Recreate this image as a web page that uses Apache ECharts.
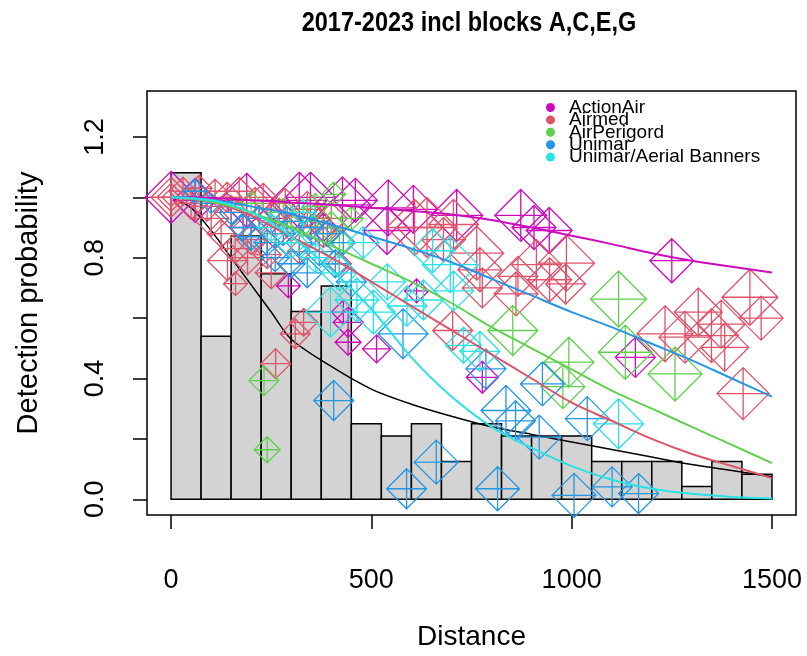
<!DOCTYPE html>
<html><head><meta charset="utf-8">
<script src="https://cdn.jsdelivr.net/npm/echarts@6/dist/echarts.min.js"></script>
<style>html,body{margin:0;padding:0;background:#fff}#c{width:807px;height:656px}</style>
</head><body><div id="c"></div>
<script>
// ---------------- data ----------------
const chartTitle = '2017-2023 incl blocks A,C,E,G';
const xName = 'Distance';
const yName = 'Detection probability';
const xTickValues = [0, 500, 1000, 1500];
const yTickValues = [0, 0.2, 0.4, 0.6, 0.8, 1.0, 1.2];
const yLabelValues = [0, 0.4, 0.8, 1.2];

const groups = ['ActionAir', 'Airmed', 'AirPerigord', 'Unimar', 'Unimar/Aerial Banners'];

// histogram of distances (scaled)
const binEdges = [0,75,150,225,300,375,450,525,600,675,750,825,900,975,1050,1125,1200,1275,1350,1425,1500];
const binHeights = [1.081,0.54,0.872,0.747,0.622,0.706,0.25,0.21,0.25,0.125,0.25,0.21,0.21,0.21,0.125,0.125,0.125,0.042,0.125,0.083];

// fitted detection functions
const curveDist = [0,50,100,150,200,250,300,400,500,600,700,800,900,1000,1100,1200,1300,1400,1500];
const fitOverall     = [1.0,0.965,0.89,0.80,0.71,0.62,0.53,0.44,0.365,0.315,0.275,0.24,0.215,0.19,0.165,0.14,0.115,0.095,0.075];
const fitActionAir   = [1.0,1.0,0.998,0.995,0.99,0.987,0.983,0.975,0.965,0.955,0.943,0.925,0.9,0.873,0.845,0.815,0.79,0.77,0.751];
const fitAirmed      = [1.0,0.995,0.985,0.965,0.94,0.905,0.87,0.8,0.72,0.64,0.56,0.48,0.4,0.32,0.26,0.2,0.15,0.11,0.07];
const fitAirPerigord = [1.0,0.995,0.985,0.97,0.95,0.925,0.9,0.84,0.78,0.72,0.65,0.57,0.5,0.43,0.36,0.30,0.24,0.18,0.12];
const fitUnimar      = [1.0,0.998,0.99,0.982,0.97,0.958,0.945,0.91,0.87,0.83,0.785,0.73,0.675,0.62,0.57,0.515,0.46,0.40,0.34];
const fitUnimarAB    = [1.0,0.997,0.99,0.975,0.95,0.915,0.87,0.76,0.63,0.47,0.34,0.24,0.17,0.11,0.065,0.035,0.018,0.008,0.003];

// observed points: [distance, detection proportion, relative weight]
const ptsActionAir = [[0,1.0,2.6],[60,0.99,2.2],[189,0.99,2.7],[250,0.93,1.5],[320,0.99,2.8],[348,1.0,2.5],[380,0.9,1.4],[428,0.975,2.8],[460,0.99,2.2],[542,0.965,2.8],[605,0.96,2.4],[539,0.89,2.4],[713,0.94,2.6],[873,0.94,2.6],[906,0.9,2.2],[944,0.89,2.3],[1250,0.79,2.2],[293,0.707,1.2],[442,0.586,1.5],[442,0.52,1.3],[513,0.498,1.4],[613,0.69,1.2],[777,0.404,1.6],[1159,0.47,2.0],[430,0.62,1.2]];
const ptsAirmed = [[0,1.0,2.0],[0,1.0,1.4],[0,1.0,0.9],[30,1.02,1.4],[50,0.98,1.6],[70,1.03,1.3],[90,0.97,1.5],[100,0.93,1.8],[110,1.02,1.2],[125,0.88,1.4],[140,1.0,1.5],[141,0.79,2.0],[150,0.95,1.7],[160,0.83,1.5],[161,0.714,1.2],[170,1.02,1.4],[180,0.9,1.4],[191,0.8,1.7],[200,0.86,1.5],[210,0.98,1.6],[220,0.93,1.3],[230,1.0,1.4],[240,0.81,1.4],[250,0.75,1.6],[260,0.88,1.5],[261,0.449,1.5],[270,0.95,1.4],[285,0.98,1.5],[300,0.9,1.4],[310,0.548,1.5],[320,0.82,1.2],[331,0.586,1.4],[340,0.96,1.8],[360,0.93,1.5],[380,0.88,1.4],[400,0.93,1.6],[420,0.78,1.2],[608,0.9,2.8],[639,0.9,3.0],[705,0.91,2.5],[680,0.86,2.2],[703,0.559,2.0],[763,0.815,2.7],[771,0.76,2.2],[777,0.7,2.0],[861,0.68,2.2],[866,0.738,2.0],[912,0.777,2.5],[945,0.727,2.2],[987,0.782,2.8],[985,0.713,2.0],[1233,0.548,2.8],[1283,0.537,2.6],[1316,0.62,2.4],[1349,0.542,2.7],[1373,0.58,2.4],[1382,0.503,2.4],[1428,0.35,2.6],[1445,0.669,2.8],[1473,0.6,2.2]];
const ptsAirPerigord = [[200,0.98,1.2],[280,0.95,1.4],[330,0.92,1.5],[360,0.97,1.3],[400,0.9,1.6],[420,0.85,1.4],[450,0.93,1.2],[406,1.01,1.2],[232,0.393,1.5],[240,0.164,1.3],[853,0.559,2.5],[978,0.373,2.2],[993,0.454,2.5],[1117,0.663,2.8],[1134,0.487,2.7],[1258,0.415,2.7]];
const ptsUnimar = [[60,1.02,1.2],[100,0.98,1.0],[150,0.95,1.2],[180,0.9,1.3],[200,0.87,1.4],[220,0.93,1.2],[240,0.85,1.3],[260,0.8,1.4],[280,0.88,1.2],[290,0.92,1.5],[300,0.78,1.4],[320,0.85,1.3],[340,0.75,1.5],[350,0.9,1.2],[370,0.82,1.4],[390,0.88,1.3],[410,0.78,1.4],[430,0.85,1.2],[450,0.72,1.5],[406,0.327,2.0],[579,0.548,2.5],[588,0.035,2.0],[662,0.123,2.2],[786,0.432,2.0],[815,0.035,2.2],[836,0.294,2.5],[860,0.26,2.0],[919,0.206,2.2],[927,0.382,2.2],[1006,0.013,2.2],[1039,0.267,2.2],[1101,0.041,2.0],[1167,0.019,2.0]];
const ptsUnimarAB = [[250,0.9,1.4],[300,0.85,1.6],[330,0.95,1.3],[360,0.8,1.5],[398,0.62,2.5],[420,0.75,1.8],[464,0.66,2.2],[480,0.85,1.6],[505,0.62,2.2],[540,0.72,1.8],[589,0.64,2.0],[630,0.66,2.0],[653,0.823,2.2],[697,0.777,2.8],[705,0.69,2.0],[730,0.51,1.8],[771,0.49,2.0],[1117,0.25,2.5]];

// ---------------- styling ----------------
const colors = ['#CD0BBC', '#DF536B', '#61D04F', '#2297E6', '#28E2E5'];
const groupPts = [ptsActionAir, ptsAirmed, ptsAirPerigord, ptsUnimar, ptsUnimarAB];
const groupFits = [fitActionAir, fitAirmed, fitAirPerigord, fitUnimar, fitUnimarAB];
const diamondPlus = 'path://M10,0 L20,10 L10,20 L0,10 Z M0,10 L20,10 M10,0 L10,20';
const pair = (ys) => curveDist.map((d, i) => [d, ys[i]]);
const SANS = 'Liberation Sans';

const histData = binHeights.map((h, i) => [binEdges[i], binEdges[i + 1], h]);

const series = [];
series.push({
  type: 'custom', name: 'hist', data: histData, z: 1,
  renderItem: function (params, api) {
    const a = api.coord([api.value(0), api.value(2)]);
    const b = api.coord([api.value(1), 0]);
    return { type: 'rect', shape: { x: a[0], y: a[1], width: b[0] - a[0], height: b[1] - a[1] },
      style: { fill: '#D3D3D3', stroke: '#000', lineWidth: 1.5 } };
  }
});
series.push({ type: 'line', name: 'overall', data: pair(fitOverall), smooth: 0.3, showSymbol: false,
  lineStyle: { color: '#000', width: 1.5 }, z: 2, silent: true });
groups.forEach((g, i) => {
  series.push({ type: 'scatter', name: g, data: groupPts[i], symbol: diamondPlus,
    symbolSize: v => v[2] * 20, clip: true, z: 3,
    itemStyle: { color: 'rgba(0,0,0,0)', borderColor: colors[i], borderWidth: 1.3, opacity: 1 } });
});
groups.forEach((g, i) => {
  series.push({ type: 'line', name: 'fit ' + g, data: pair(groupFits[i]), smooth: 0.3, showSymbol: false,
    lineStyle: { color: colors[i], width: 2 }, z: 4, silent: true });
});

const chart = echarts.init(document.getElementById('c'), null, { renderer: 'canvas' });
chart.setOption({
  animation: false,
  backgroundColor: '#fff',
  graphic: [{
    type: 'text', x: 469, y: 23, scaleX: 0.84, z: 10,
    style: { text: chartTitle, fontFamily: SANS, fontWeight: 'bold', fontSize: 28, fill: '#000',
      align: 'center', verticalAlign: 'middle' }
  }],
  grid: { left: 147, top: 91, width: 649, height: 425, show: true, borderColor: '#000', borderWidth: 1.5, containLabel: false },
  legend: {
    orient: 'vertical', left: 541, top: 93, itemWidth: 9, itemHeight: 9, itemGap: -6.6, selectedMode: false,
    data: groups.map((g, i) => ({ name: g, icon: 'circle', itemStyle: { color: colors[i], borderWidth: 0 } })),
    textStyle: { fontFamily: SANS, fontSize: 19, color: '#000', padding: [0, 0, 0, 9] }
  },
  xAxis: {
    type: 'value', min: -60, max: 1560, position: 'bottom',
    name: xName, nameLocation: 'middle', nameGap: 108,
    nameTextStyle: { fontFamily: SANS, fontSize: 28, color: '#000' },
    axisLine: { show: false, onZero: false },
    axisTick: { show: true, inside: false, length: 14, customValues: xTickValues, lineStyle: { color: '#000', width: 1.5 } },
    axisLabel: { customValues: xTickValues, margin: 52, fontFamily: SANS, fontSize: 27, color: '#000',
      formatter: v => String(Math.round(v)) },
    splitLine: { show: false }
  },
  yAxis: {
    type: 'value', min: -0.052, max: 1.352, position: 'left',
    name: yName, nameLocation: 'middle', nameGap: 104, nameRotate: 90,
    nameTextStyle: { fontFamily: SANS, fontSize: 29, color: '#000' },
    axisLine: { show: false, onZero: false },
    axisTick: { show: true, inside: false, length: 14, customValues: yTickValues, lineStyle: { color: '#000', width: 1.5 } },
    axisLabel: { customValues: yLabelValues, rotate: 90, margin: 38, fontFamily: SANS, fontSize: 27, color: '#000',
      formatter: v => Number(v).toFixed(1) },
    splitLine: { show: false }
  },
  series: series
});
</script>
</body></html>
